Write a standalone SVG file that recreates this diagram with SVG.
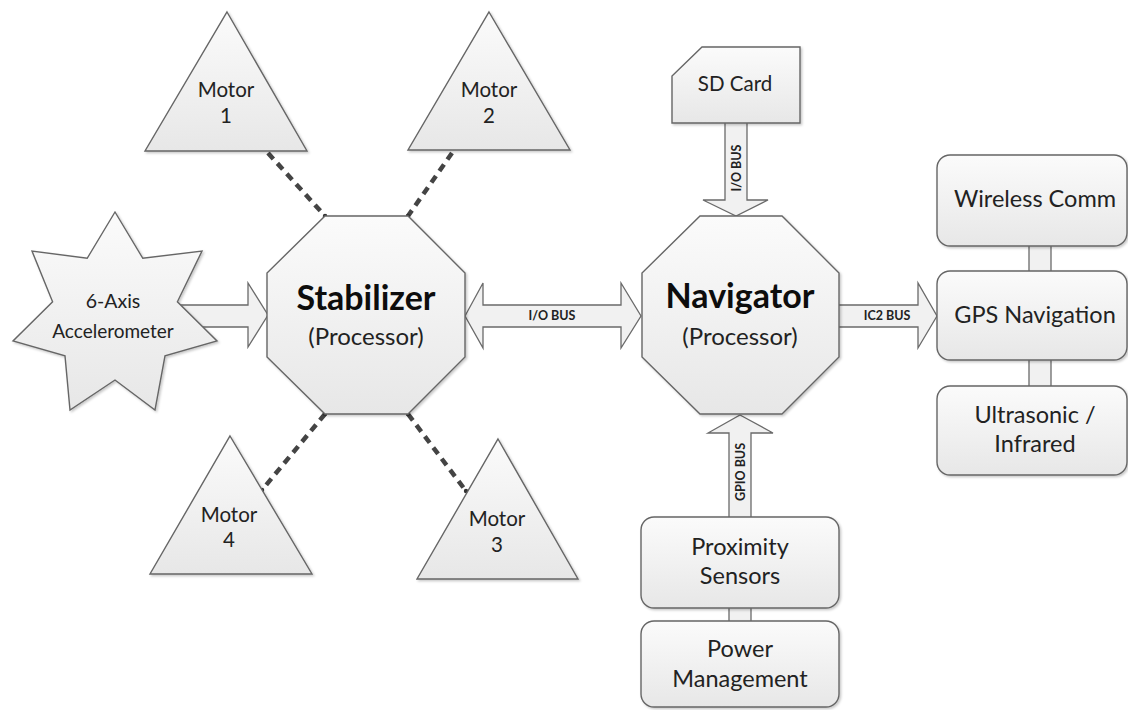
<svg xmlns="http://www.w3.org/2000/svg" width="1128" height="710" viewBox="0 0 1128 710">
<defs>
<linearGradient id="g" x1="0" y1="0" x2="0" y2="1">
<stop offset="0" stop-color="#fbfbfb"/>
<stop offset="1" stop-color="#e7e7e7"/>
</linearGradient>
<filter id="sh" x="-10%" y="-10%" width="125%" height="125%">
<feDropShadow dx="1.5" dy="1.5" stdDeviation="1.2" flood-color="#000" flood-opacity="0.22"/>
</filter>
</defs>
<style>
.shape{fill:url(#g);stroke:#666;stroke-width:1.4;filter:url(#sh)}
.arrow{fill:#f1f1f1;stroke:#6a6a6a;stroke-width:1.3}
.dash{stroke:#444;stroke-width:4.5;stroke-dasharray:8 6;fill:none}
.dot{fill:#333}
text{font-family:Lato,"Liberation Sans",sans-serif;fill:#222;text-anchor:middle}
.t{font-size:23.5px}
.m{font-size:20.5px}
.title{font-size:34px;font-weight:bold;fill:#0d0d0d}
.sub{font-size:24px}
.bus{font-size:12.5px;font-weight:bold;fill:#222}
</style>

<g id="connectors">
<line class="dash" x1="268" y1="153" x2="325" y2="216"/>
<line class="dash" x1="452" y1="153" x2="408" y2="216"/>
<line class="dash" x1="325" y1="414" x2="262" y2="490"/>
<line class="dash" x1="408" y1="414" x2="466" y2="491"/>
<circle class="dot" cx="325" cy="216" r="2.2"/>
<circle class="dot" cx="408" cy="216" r="2.2"/>
<circle class="dot" cx="325" cy="414" r="2.2"/>
<circle class="dot" cx="408" cy="414" r="2.2"/>
<circle class="dot" cx="262" cy="490" r="2.2"/>
<circle class="dot" cx="466" cy="491" r="2.2"/>
<polygon class="arrow" points="170,305 248,305 248,283 268,315 248,347 248,327 170,327"/>
<polygon class="arrow" points="465,316 483,283 483,305 621,305 621,283 641,316 621,348 621,327 483,327 483,348"/>
<text class="bus" x="552" y="320">I/O BUS</text>
<polygon class="arrow" points="830,305 918,305 918,283 937,316 918,348 918,327 830,327"/>
<text class="bus" x="887" y="320">IC2 BUS</text>
<polygon class="arrow" points="725,115 747,115 747,200 768,200 736,216 703,200 725,200"/>
<text class="bus" transform="translate(740.5,168) rotate(-90)">I/O BUS</text>
<polygon class="arrow" points="740,415 773,433 751,433 751,525 729,525 729,433 708,433"/>
<text class="bus" transform="translate(744.5,472) rotate(-90)">GPIO BUS</text>
<rect class="arrow" x="729" y="600" width="22" height="28"/>
<rect class="arrow" x="1029" y="240" width="22" height="36"/>
<rect class="arrow" x="1029" y="355" width="22" height="36"/>
</g>

<g id="motor1">
<polygon class="shape" points="227,12 307,151 145,151"/>
<text class="m" x="226" y="97">Motor</text>
<text class="m" x="226" y="123">1</text>
</g>
<g id="motor2">
<polygon class="shape" points="489,12 570,150 408,150"/>
<text class="m" x="489" y="97">Motor</text>
<text class="m" x="489" y="123">2</text>
</g>
<g id="motor4">
<polygon class="shape" points="230,436 312,574 150,574"/>
<text class="m" x="229" y="522">Motor</text>
<text class="m" x="229" y="547">4</text>
</g>
<g id="motor3">
<polygon class="shape" points="498,439 578,579 417,579"/>
<text class="m" x="497" y="526">Motor</text>
<text class="m" x="497" y="552">3</text>
</g>

<g id="accelerometer">
<polygon class="shape" points="115,212 142.8,258.3 202,251 177.4,301.8 217,341 165,355.9 155,410 115,380 70,410 65,355.9 13,341 52.6,301.8 32,251 87.2,258.3"/>
<text x="113" y="308" style="font-size:19.5px">6-Axis</text>
<text x="113" y="338" style="font-size:19px">Accelerometer</text>
</g>

<g id="stabilizer">
<polygon class="shape" points="325,216 408,216 465,273 465,357 408,414 325,414 267,357 267,273"/>
<text class="title" x="366" y="310">Stabilizer</text>
<text class="sub" x="366" y="345">(Processor)</text>
</g>

<g id="navigator">
<polygon class="shape" points="700,216 782,216 839,273 839,357 782,414 700,414 642,357 642,273"/>
<text class="title" x="740" y="308">Navigator</text>
<text class="sub" x="740" y="345">(Processor)</text>
</g>

<g id="sdcard">
<polygon class="shape" points="702,47 800,47 800,123 672,123 672,76"/>
<text class="m" x="735" y="91">SD Card</text>
</g>

<g id="wireless">
<rect class="shape" x="937" y="155" width="190" height="91" rx="13"/>
<text class="t" x="1035" y="207">Wireless Comm</text>
</g>
<g id="gps">
<rect class="shape" x="937" y="271" width="190" height="89" rx="13"/>
<text class="t" x="1035" y="323">GPS Navigation</text>
</g>
<g id="ultrasonic">
<rect class="shape" x="937" y="386" width="190" height="89" rx="13"/>
<text class="t" x="1035" y="423">Ultrasonic /</text>
<text class="t" x="1035" y="452">Infrared</text>
</g>
<g id="proximity">
<rect class="shape" x="641" y="517" width="198" height="91" rx="13"/>
<text class="t" x="740" y="555">Proximity</text>
<text class="t" x="740" y="584">Sensors</text>
</g>
<g id="power">
<rect class="shape" x="641" y="621" width="198" height="86" rx="13"/>
<text class="t" x="740" y="657">Power</text>
<text class="t" x="740" y="687">Management</text>
</g>
</svg>
